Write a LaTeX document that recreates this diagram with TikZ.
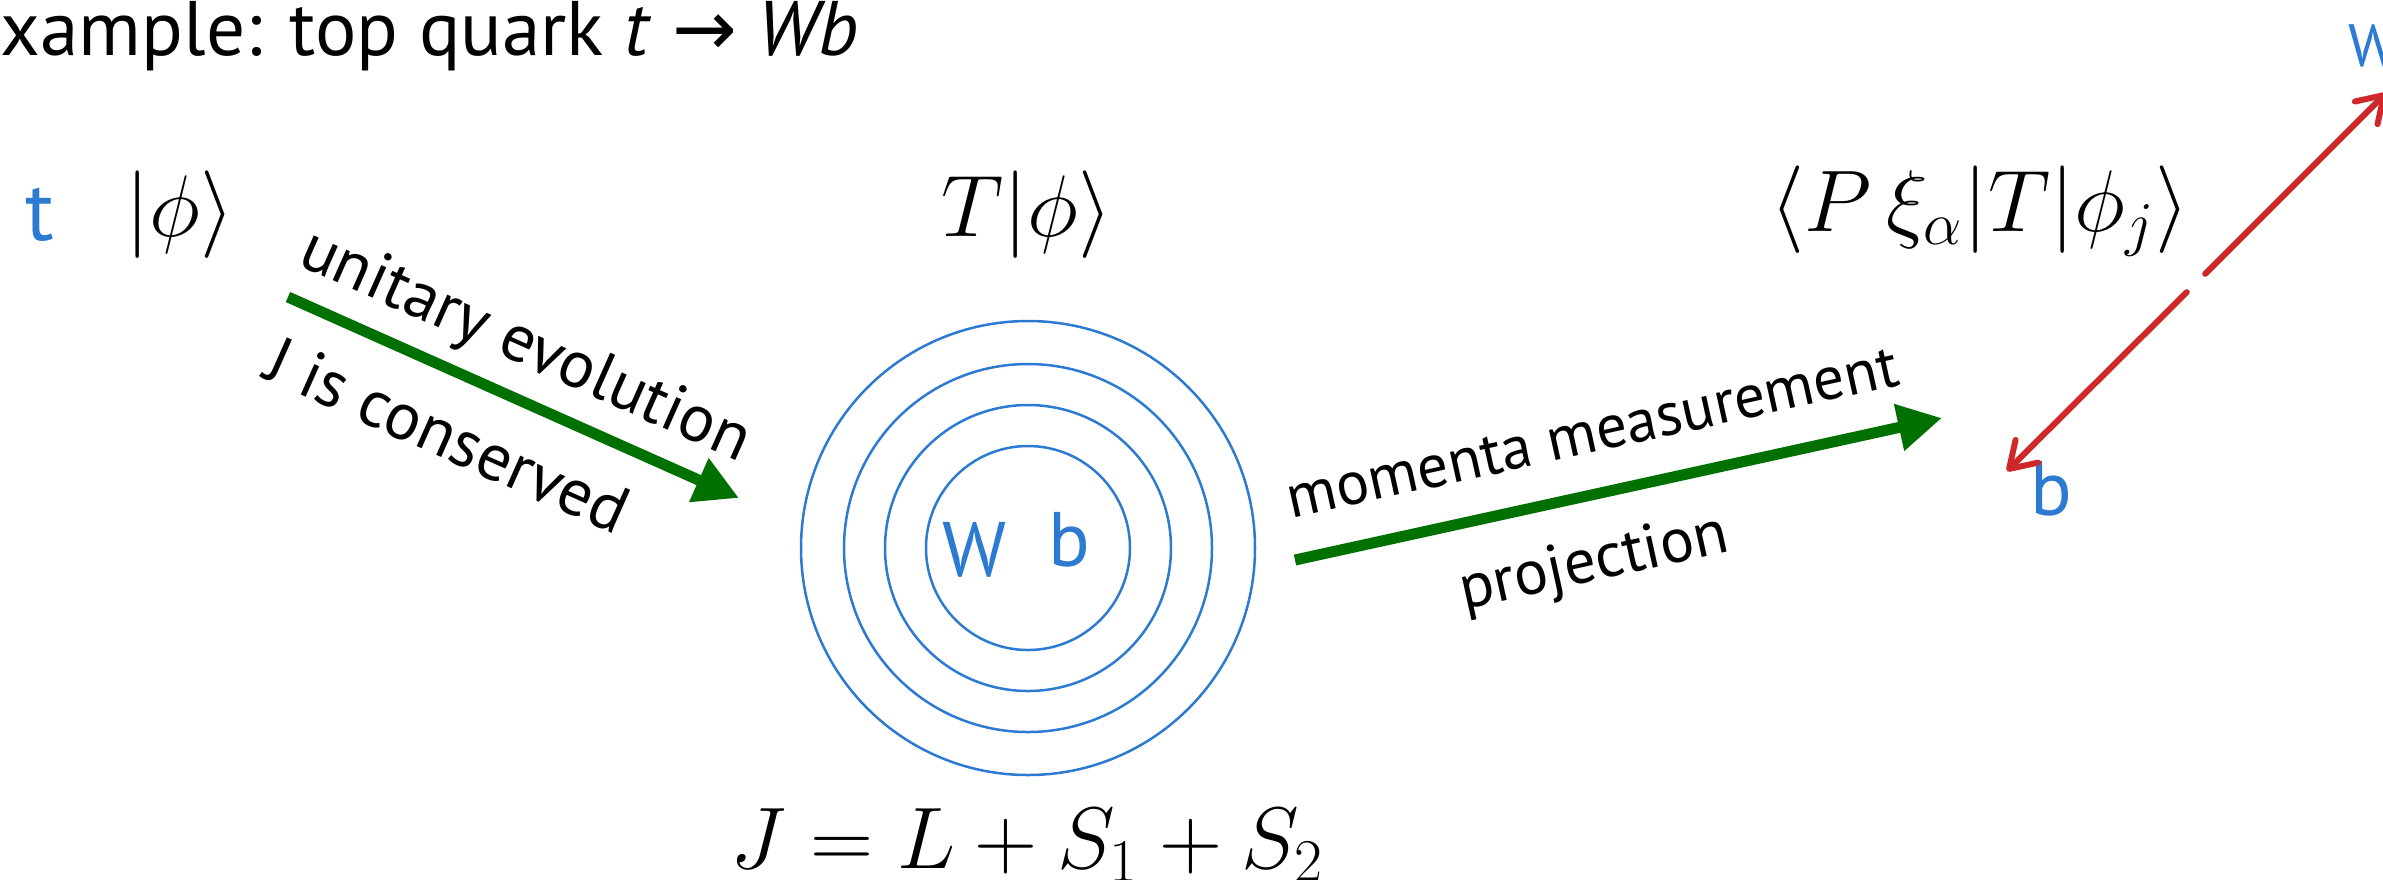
\documentclass[tikz,border=0pt]{standalone}
\usepackage[no-math]{fontspec}
\setmainfont{PT Sans}
\newfontfamily\arrowfont{DejaVu Sans}
\usepackage{amsmath}
\usepackage{xcolor}
\usepackage{tikz}
\usetikzlibrary{positioning, calc, arrows.meta}

\definecolor{penblue}{RGB}{44,122,210}
\definecolor{penred}{RGB}{206,40,40}
\definecolor{arrowgreen}{RGB}{0,112,0}

\tikzset{
  flow/.style={draw=arrowgreen, line width=0.11cm, -{Triangle[length=0.44cm, width=0.45cm]}},
  momentum/.style={draw=penred, line width=0.06cm, line cap=round, -{Straight Barb[length=0.25cm, width=0.32cm, round]}},
  ink/.style={text=penblue, inner sep=0pt, font=\fontsize{22}{22}\selectfont},
  steptext/.style={font=\fontsize{19}{19}\selectfont, inner sep=0pt},
  formula/.style={font=\fontsize{23}{23}\selectfont, inner sep=0pt},
  shell/.style={draw=penblue, line width=0.025cm},
}

\begin{document}
\begin{tikzpicture}
  \useasboundingbox (0,0) rectangle (23.83,-8.79);
  \clip (0,0) rectangle (23.83,-8.79);

  \node[anchor=base west, inner sep=0pt, font=\fontsize{22}{22}\selectfont] (title) at (0,-0.55) {xample: top quark \textit{t} {\arrowfont →} \textit{Wb}};

  % initial state
  \node[ink, font=\fontsize{24}{24}\selectfont, anchor=base] (tq) at (0.40,-2.40) {t};
  \node[formula, anchor=base] (phi) at (1.80,-2.36) {$|\phi\rangle$};

  % W b inside the shells
  \node[formula, anchor=base] (Tphi) at (10.27,-2.36) {$T|\phi\rangle$};
  \coordinate (core) at (10.28,-5.48);
  \foreach \r in {1.02,1.43,1.84,2.27}
    \draw[shell] (core) circle (\r);
  \node[ink] (Win) at (9.75,-5.50) {W};
  \node[ink] (bin) at (10.69,-5.40) {b};
  \node[formula, anchor=base] (Jsum) at (10.27,-8.68) {$J = L + S_1 + S_2$};

  % after the measurement
  \node[formula, anchor=base] (amp) at (19.80,-2.31) {$\langle P\,\xi_\alpha|T|\phi_j\rangle$};
  \node[ink, font=\fontsize{17}{17}\selectfont, anchor=base west] (Wout) at (23.48,-0.66) {W};
  \node[ink, anchor=base] (bout) at (20.51,-5.15) {b};

  \coordinate (btip) at (20.07,-4.71);
  \coordinate (wtip) at (23.86,-0.93);
  \coordinate (gap) at (21.96,-2.83);
  \draw[momentum, shorten <=0.13cm] (gap) -- (wtip);
  \draw[momentum, shorten <=0.13cm] (gap) -- (btip);

  % green arrows
  \coordinate (evoA) at (2.88,-2.97);
  \coordinate (evoB) at (7.39,-4.98);
  \draw[flow] (evoA) -- (evoB);
  \node[steptext, rotate=-24] (unitary) at ($(evoA)!0.48!(evoB)!0.50cm!90:(evoB)$) {unitary evolution};
  \node[steptext, rotate=-24] (conserved) at ($(evoA)!0.41!(evoB)!0.61cm!-90:(evoB)$) {J is conserved};

  \coordinate (measA) at (12.95,-5.60);
  \coordinate (measB) at (19.42,-4.18);
  \draw[flow] (measA) -- (measB);
  \node[steptext, font=\fontsize{17.5}{17.5}\selectfont, rotate=12.4] (measure) at ($(measA)!0.48!(measB)!0.60cm!90:(measB)$) {momenta measurement};
  \node[steptext, font=\fontsize{18}{18}\selectfont, rotate=12.4] (project) at ($(measA)!0.44!(measB)!0.69cm!-90:(measB)$) {projection};
\end{tikzpicture}
\end{document}
